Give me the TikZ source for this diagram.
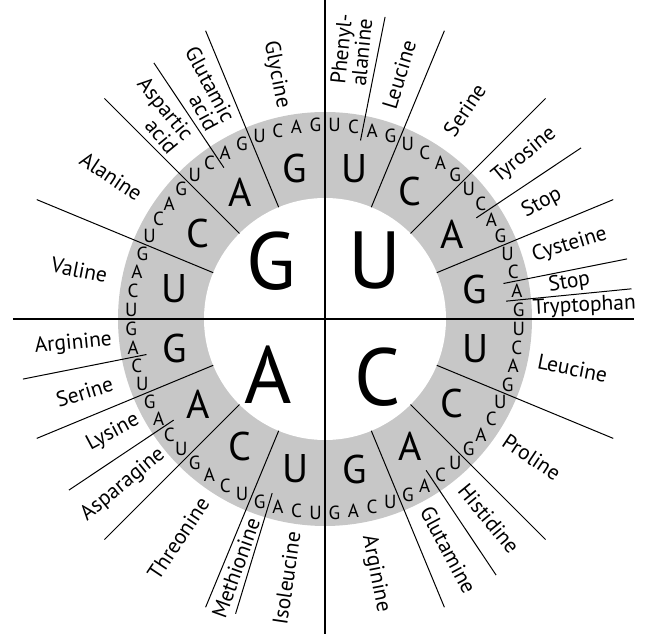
\documentclass[tikz,border=0pt]{standalone}
\usepackage{fontspec}
\setmainfont{PT Sans}
\begin{document}
\begin{tikzpicture}[x=1pt,y=1pt,
  first/.style={font=\fontsize{81}{81}\selectfont, inner sep=0pt},
  second/.style={font=\fontsize{40}{40}\selectfont, inner sep=0pt},
  third/.style={font=\fontsize{19}{19}\selectfont, inner sep=0pt},
  aa/.style={font=\fontsize{21.5}{19}\selectfont, inner sep=0pt},
  aaR/.style={aa, anchor=west, align=left},
  aaL/.style={aa, anchor=east, align=right},
  rule/.style={line width=1pt},
  axis/.style={line width=1.3pt},
  ring/.style={fill=black!22},
]
\useasboundingbox (-325,-315) rectangle (326,319);
% stippled ring
\fill[ring] (0,0) circle (207);
\fill[white] (0,0) circle (121);
% quadrant axes
\coordinate (top) at (0,319);
\coordinate (bottom) at (0,-315);
\coordinate (left) at (-312,0);
\coordinate (right) at (309,0);
\draw[axis] (top) -- (bottom);
\draw[axis] (left) -- (right);
% first letters
\node[first] (fG) at (-54,58) {G};
\node[first] (fU) at (50,58) {U};
\node[first] (fA) at (-57,-56) {A};
\node[first] (fC) at (53,-58) {C};
% sector boundaries
\foreach \i in {1,2,3,5,6,7,9,10,11,13,14,15}{
  \draw[rule] ({90-22.5*\i}:121) -- ({90-22.5*\i}:312);
}
% amino-acid sub-dividers
\foreach \a in {11.25,56.25,78.75,84.375,146.25,196.875,236.25,258.75,326.25}{
  \draw[rule] ({90-\a}:182) -- ({90-\a}:308);
}
% second letters
\foreach \i/\L in {0/U,1/C,2/A,3/G,4/U,5/C,6/A,7/G,8/U,9/C,10/A,11/G,12/U,13/C,14/A,15/G}{
  \node[second] (s\i) at ({90-22.5*\i-11.25}:153) {\L};
}
% third letters
\foreach \i in {0,...,15}{
  \foreach \k/\L in {0/U,1/C,2/A,3/G}{
    \node[third] (t\i-\k) at ({90-22.5*\i-5.625*\k-2.8125}:194) {\L};
  }
}
% amino acid labels, right half (reading outward)
\foreach \a/\r/\t [count=\n] in {
  5.625/235/{Phenyl-\\alanine},
  16.875/220/Leucine,
  33.75/222/Serine,
  50.625/220/Tyrosine,
  61.875/225/Stop,
  73.125/217/Cysteine,
  81.5625/226/Stop,
  87.1875/208/Tryptophan,
  101.25/217/Leucine,
  123.75/216/Proline,
  140.625/217/Histidine,
  151.875/214/Glutamine,
  168.75/221/Arginine}{
  \node[aaR, rotate={90-\a}] (r\n) at ({90-\a}:\r) {\t};
}
% amino acid labels, left half (reading inward)
\foreach \a/\r/\t [count=\n] in {
  188.4375/215/Isoleucine,
  199.6875/212/Methionine,
  213.75/217/Threonine,
  230.625/210/Asparagine,
  241.875/212/Lysine,
  253.125/222/Serine,
  264.375/214/Arginine,
  281.25/222/Valine,
  303.75/222/Alanine,
  320.625/226/{Aspartic\\acid},
  331.875/220/{Glutamic\\acid},
  348.75/215/Glycine}{
  \node[aaL, rotate={270-\a}] (l\n) at ({90-\a}:\r) {\t};
}
\end{tikzpicture}
\end{document}
